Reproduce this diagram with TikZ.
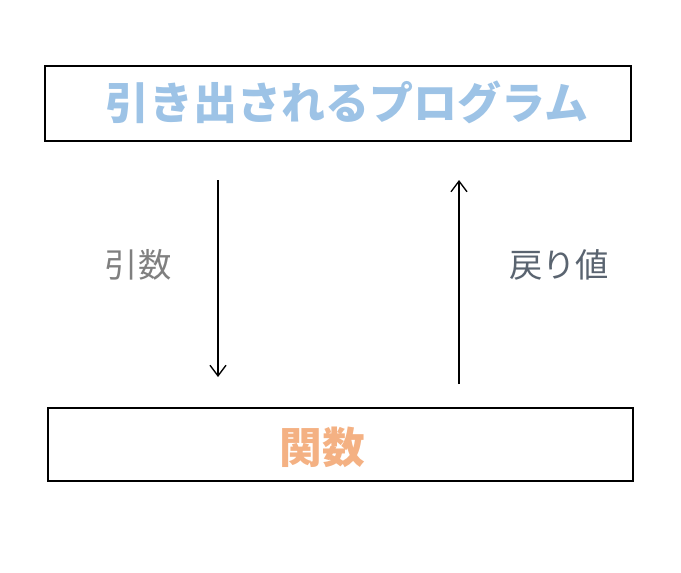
\documentclass[tikz,border=0pt]{standalone}
\usetikzlibrary{arrows.meta}
\usepackage{fontspec}
\newfontfamily\cjk{Noto Sans CJK JP}
\definecolor{titleblue}{HTML}{9DC3E6}
\definecolor{funcorange}{HTML}{F4B183}
\definecolor{labelgray}{HTML}{7F7F7F}
\definecolor{labelslate}{HTML}{5A6470}
\begin{document}
\begin{tikzpicture}[x=0.75pt,y=-0.75pt,
  box/.style={draw,line width=1.2pt,inner sep=0pt},
  flow/.style={-{Straight Barb[length=8pt,width=12pt]},line width=1pt}]
  \useasboundingbox (0,0) rectangle (681,572);
  % boxes
  \node[box,minimum width=586*0.75pt,minimum height=75*0.75pt] (prog) at (338,103.5) {};
  \node[box,minimum width=585*0.75pt,minimum height=73*0.75pt] (func) at (340.5,444.5) {};
  \node[text=titleblue,font=\cjk\bfseries\fontsize{33}{38}\selectfont] (progtxt) at (347,102) {引き出されるプログラム};
  \node[text=funcorange,font=\cjk\bfseries\fontsize{32}{37}\selectfont] (functxt) at (322,447) {関数};
  % arrows
  \coordinate (argS) at (218,180);
  \coordinate (argE) at (218,377);
  \coordinate (retS) at (459,384);
  \coordinate (retE) at (459,180);
  \draw[flow] (argS) -- (argE);
  \draw[flow] (retS) -- (retE);
  \node[text=labelgray,font=\cjk\fontsize{25}{29}\selectfont] (arg) at (138,265) {引数};
  \node[text=labelslate,font=\cjk\fontsize{25}{29}\selectfont] (ret) at (559,265) {戻り値};
\end{tikzpicture}
\end{document}
